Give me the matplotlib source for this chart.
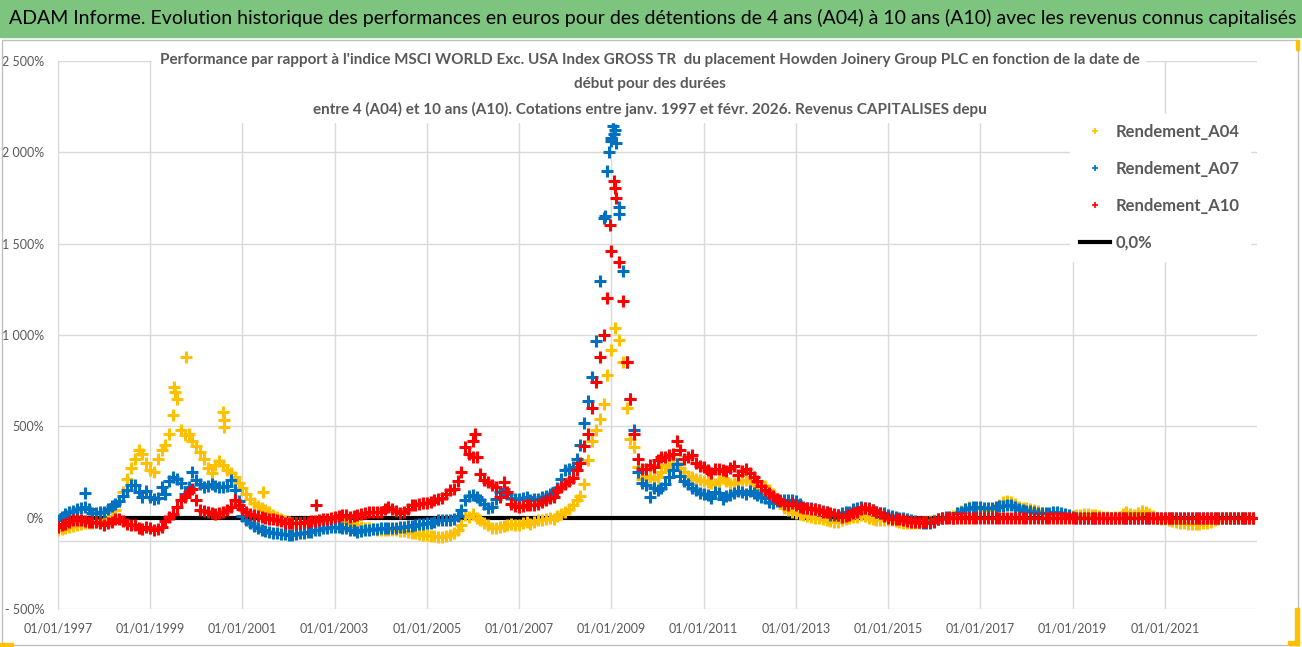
import matplotlib
matplotlib.use("Agg")
import matplotlib.pyplot as plt
from matplotlib.lines import Line2D
from matplotlib.patches import Rectangle
from matplotlib.ticker import FuncFormatter, MultipleLocator, FixedLocator
import matplotlib.dates as mdates
import pandas as pd

plt.rcParams['font.family'] = ['Lato', 'DejaVu Sans']

COLORS = {
    "a04": "#FFC000",   # yellow
    "a07": "#0070C0",   # blue
    "a10": "#FF0000",   # red
    "zero": "#000000",
    "grid": "#D9D9D9",
    "text": "#595959",
    "header": "#7DC47F",
}

HEADER = ("ADAM Informe. Evolution historique des performances en euros pour des détentions "
          "de 4 ans (A04) à 10 ans (A10) avec les revenus connus capitalisés")
TITLE = ["Performance par rapport à l'indice MSCI WORLD Exc. USA Index GROSS TR  du placement "
         "Howden Joinery Group PLC en fonction de la date de",
         "début pour des durées",
         "entre 4 (A04) et 10 ans (A10). Cotations entre janv. 1997 et févr. 2026. "
         "Revenus CAPITALISES depu"]
LABELS = ["Rendement_A04", "Rendement_A07", "Rendement_A10", "0,0%"]
TICK_DATES = ["1997-01-01", "1999-01-01", "2001-01-01", "2003-01-01", "2005-01-01", "2007-01-01",
              "2009-01-01", "2011-01-01", "2013-01-01", "2015-01-01", "2017-01-01", "2019-01-01",
              "2021-01-01"]

# monthly start dates, jan 1997 -> dec 2022
dates = pd.date_range("1997-01-01", periods=312, freq="MS")

# performance in %, one row per year (jan..dec)
a04 = [
    -70, -62, -55, -51, -45, -38, -33, -30, -30, -29, -25, -20,
    -15, -5, 10, 40, 90, 140, 210, 270, 320, 370, 350, 300,
    260, 250, 320, 370, 400, 460, 560, 650, 480, 450, 460, 420,
    390, 360, 320, 270, 245, 290, 310, 290, 260, 245, 225, 190,
    160, 130, 100, 80, 65, 55, 40, 30, 15, 5, -10, -20,
    -25, -28, -30, -30, -28, -27, -25, -22, -20, -15, -12, -8,
    -5, -8, -15, -22, -30, -40, -48, -52, -55, -58, -62, -65,
    -67, -67, -67, -68, -70, -72, -75, -78, -82, -86, -90, -95,
    -95, -98, -102, -105, -104, -100, -97, -85, -65, -40, 15, 5,
    20, 0, -15, -30, -42, -55, -58, -51, -45, -40, -33, -42,
    -42, -30, -24, -33, -25, -15, -15, -10, 0, -5, 10, 22,
    31, 49, 67, 95, 120, 186, 313, 420, 480, 540, 620, 780,
    920, 1040, 970, 850, 600, 430, 386, 280, 210, 230, 220, 210,
    222, 250, 290, 280, 320, 300, 270, 250, 230, 220, 210, 205,
    200, 195, 190, 185, 200, 215, 200, 185, 190, 195, 205, 208,
    199, 190, 181, 175, 172, 150, 130, 100, 79, 55, 40, 30,
    24, 20, 15, 10, 6, 0, -4, -10, -13, -20, -22, -22,
    -13, -8, -4, 4, 6, 15, 10, -4, -10, -13, -13, -13,
    -13, -15, -20, -25, -31, -31, -31, -30, -28, -25, -22, -18,
    -13, -10, -4, 0, 5, 10, 24, 35, 45, 57, 55, 52,
    52, 45, 42, 48, 55, 70, 85, 92, 85, 75, 61, 55,
    52, 47, 42, 35, 28, 20, 15, 10, 9, 6, 4, 2,
    9, 12, 15, 18, 20, 17, 15, 10, 6, 2, 0, 3,
    6, 20, 33, 20, 15, 24, 39, 30, 20, 10, 0, -5,
    -9, -13, -16, -22, -28, -31, -35, -35, -35, -33, -31, -27,
    -22, -15, -9, 0, 0, 0, 0, 0, 0, 0, 0, 0,
]
a07 = [
    -15, 5, 20, 30, 38, 45, 52, 58, 45, 25, 28, 31,
    31, 45, 62, 75, 90, 120, 150, 180, 180, 140, 115, 145,
    113, 100, 110, 168, 130, 200, 220, 210, 190, 131, 168, 250,
    204, 185, 168, 175, 186, 175, 168, 168, 175, 204, 150, 90,
    10, -15, -30, -45, -55, -65, -72, -78, -82, -86, -88, -92,
    -95, -93, -90, -86, -82, -80, -76, -70, -65, -58, -55, -52,
    -49, -52, -55, -58, -65, -70, -76, -72, -70, -67, -63, -60,
    -58, -58, -58, -58, -55, -52, -49, -46, -43, -40, -36, -33,
    -31, -28, -22, -15, -15, -15, -15, -5, 10, 40, 95, 120,
    122, 113, 95, 76, 55, 60, 104, 140, 158, 131, 110, 104,
    104, 110, 113, 95, 100, 104, 113, 120, 131, 140, 160, 210,
    259, 268, 277, 320, 400, 520, 641, 769, 969, 1297, 1643, 1900,
    2062, 2120, 1700, 1350, 850, 650, 480, 250, 190, 180, 113, 160,
    150, 160, 186, 220, 259, 295, 230, 200, 186, 160, 149, 135,
    131, 125, 110, 140, 135, 100, 116, 125, 135, 144, 140, 130,
    144, 135, 125, 115, 107, 85, 79, 89, 95, 98, 98, 95,
    89, 75, 61, 55, 52, 45, 42, 35, 30, 15, 15, 15,
    24, 30, 33, 45, 52, 61, 55, 52, 40, 33, 24, 24,
    15, 10, 6, 0, -4, -10, -13, -20, -25, -31, -30, -28,
    -18, -10, -4, 2, 6, -4, 24, 33, 45, 52, 61, 60,
    57, 55, 52, 55, 57, 62, 65, 70, 70, 60, 50, 42,
    39, 36, 33, 28, 24, 26, 28, 30, 33, 24, 20, 15,
    6, 0, 0, 0, 0, 0, 0, 0, 0, 0, 0, 0,
    0, 0, 0, 0, 0, 0, 0, 0, 0, 0, 0, 0,
    0, 0, 0, 0, 0, 0, 0, 0, 0, 0, 0, 0,
    0, 0, 0, 0, 0, 0, 0, 0, 0, 0, 0, 0,
]
a10 = [
    -51, -42, -33, -25, -15, -15, -15, -20, -24, -24, -24, -30,
    -42, -30, -24, -5, -10, -20, -33, -38, -42, -55, -60, -51,
    -55, -69, -60, -51, -20, 4, 22, 58, 95, 113, 140, 158,
    95, 40, 35, 31, 25, 22, 28, 31, 40, 60, 95, 70,
    45, 30, 20, 13, 10, 5, 0, -5, -10, -13, -20, -27,
    -27, -27, -27, -27, -25, -22, -20, -18, -13, -10, -5, 0,
    5, 10, 15, 12, 5, 8, 15, 18, 25, 30, 33, 33,
    33, 45, 60, 50, 35, 24, 30, 50, 69, 72, 75, 78,
    78, 85, 95, 100, 110, 130, 149, 158, 200, 250, 386, 350,
    331, 331, 240, 204, 195, 180, 168, 113, 195, 140, 76, 65,
    58, 62, 67, 67, 72, 76, 86, 95, 105, 113, 149, 170,
    186, 200, 215, 260, 300, 390, 459, 600, 740, 880, 1000, 1200,
    1461, 1807, 1400, 1188, 850, 650, 459, 320, 265, 265, 290, 280,
    313, 331, 331, 345, 350, 420, 368, 320, 331, 345, 300, 285,
    277, 260, 245, 264, 264, 260, 255, 270, 282, 236, 255, 264,
    245, 220, 199, 175, 150, 135, 116, 100, 89, 75, 72, 79,
    70, 60, 52, 52, 50, 45, 40, 33, 30, 24, 20, 15,
    6, 10, 15, 25, 33, 45, 52, 45, 42, 30, 24, 10,
    -4, -5, -7, -10, -13, -18, -22, -22, -22, -22, -22, -22,
    -22, -7, 0, 0, 0, 0, 0, 0, 0, 0, 0, 0,
    0, 0, 0, 0, 0, 0, 0, 0, 0, 0, 0, 0,
    0, 0, 0, 0, 0, 0, 0, 0, 0, 0, 0, 0,
    0, 0, 0, 0, 0, 0, 0, 0, 0, 0, 0, 0,
    0, 0, 0, 0, 0, 0, 0, 0, 0, 0, 0, 0,
    0, 0, 0, 0, 0, 0, 0, 0, 0, 0, 0, 0,
    0, 0, 0, 0, 0, 0, 0, 0, 0, 0, 0, 0,
]

# isolated points standing out of the bands
a04_extra_dates = ["1999-07-10", "1999-07-20", "1999-10-15", "2000-08-01", "2000-08-05", "2000-08-10", "2001-06-15"]
a04_extra = [714, 690, 878, 577, 532, 495, 140]
a07_extra_dates = ["1997-08-05", "2008-11-15", "2008-12-15", "2008-12-28", "2009-01-10", "2009-01-20", "2009-02-05", "2009-03-05"]
a07_extra = [133, 1650, 2000, 2080, 2144, 2100, 2050, 1660]
a10_extra_dates = ["2002-08-10", "2006-01-01", "2006-01-20", "2008-12-20", "2009-01-20", "2009-02-05"]
a10_extra = [69, 420, 459, 1600, 1843, 1750]

W, H = 1302, 647
fig = plt.figure(figsize=(W / 100, H / 100), dpi=100)
ax = fig.add_axes([58 / W, 1 - 609 / H, (1257 - 58) / W, (609 - 61) / H])

mk = dict(linestyle="none", marker="+", markersize=8, markeredgewidth=2.2)
ax.plot(dates, a04, color=COLORS["a04"], zorder=3, **mk)
ax.plot(pd.to_datetime(a04_extra_dates), a04_extra, color=COLORS["a04"], zorder=3, **mk)
ax.plot(dates, a07, color=COLORS["a07"], zorder=4, **mk)
ax.plot(pd.to_datetime(a07_extra_dates), a07_extra, color=COLORS["a07"], zorder=4, **mk)
ax.plot(dates, a10, color=COLORS["a10"], zorder=5, **mk)
ax.plot(pd.to_datetime(a10_extra_dates), a10_extra, color=COLORS["a10"], zorder=5, **mk)
ax.plot([dates[0], dates[-1]], [0, 0], color=COLORS["zero"], lw=3, zorder=2)
ax.axhline(-128, color=COLORS["grid"], lw=1, zorder=1)

ax.set_xlim(pd.Timestamp("1997-01-01"), pd.Timestamp("2023-01-01"))
ax.set_ylim(-500, 2500)
ax.yaxis.set_major_locator(MultipleLocator(500))
ax.yaxis.set_major_formatter(FuncFormatter(
    lambda v, p: "0%" if v == 0 else ("- " if v < 0 else "") + f"{abs(int(v)):,}".replace(",", " ") + "%"))
ax.xaxis.set_major_locator(FixedLocator(mdates.date2num(pd.to_datetime(TICK_DATES))))
ax.xaxis.set_major_formatter(mdates.DateFormatter("%d/%m/%Y"))
ax.grid(True, color=COLORS["grid"], lw=1)
ax.set_axisbelow(True)
ax.tick_params(length=0, labelsize=9, labelcolor=COLORS["text"])
ax.tick_params(axis="y", pad=10)
ax.tick_params(axis="x", pad=10)
for s in ["top", "right", "bottom"]:
    ax.spines[s].set_visible(False)
ax.spines["left"].set_color(COLORS["grid"])

# chart frame + header band
fig.patches.append(Rectangle((2 / W, 1 - 645 / H), 1296 / W, 605 / H, transform=fig.transFigure,
                             fill=False, edgecolor="#BFBFBF", lw=1))
fig.patches.append(Rectangle((0, 1 - 37 / H), 1, 37 / H, transform=fig.transFigure,
                             color=COLORS["header"]))
fig.text(9 / W, 1 - 18 / H, HEADER, fontsize=14, color="black", va="center", ha="left")

# title on white box
fig.patches.append(Rectangle((152 / W, 1 - 122 / H), (1145 - 152) / W, 75 / H, transform=fig.transFigure,
                             color="white", zorder=1))
for line, y in zip(TITLE, [60, 84, 109]):
    fig.text(650 / W, 1 - y / H, line, fontsize=11, fontweight="bold", color=COLORS["text"],
             ha="center", va="center")

handles = [Line2D([], [], color=COLORS[k], marker="+", linestyle="none", markersize=5, markeredgewidth=1.2)
           for k in ["a04", "a07", "a10"]]
handles.append(Line2D([], [], color="black", lw=3))
leg = ax.legend(handles, LABELS, loc="upper left", bbox_to_anchor=(1070 / W, 1 - 114 / H),
                bbox_transform=fig.transFigure, frameon=True, fancybox=False, framealpha=1,
                edgecolor="white", fontsize=12, labelspacing=1.25, handlelength=1.8,
                handletextpad=0.35, borderpad=0.6, borderaxespad=0)
for t in leg.get_texts():
    t.set_color(COLORS["text"])
    t.set_fontweight("bold")

# small selection marks of the source capture
for (x0, y0, w, h) in [(0, 643, 13, 4), (1295, 608, 4, 37), (1288, 641, 11, 4), (1296, 40, 3, 10)]:
    fig.patches.append(Rectangle((x0 / W, 1 - (y0 + h) / H), w / W, h / H, transform=fig.transFigure,
                                 color="#FFC000", zorder=6))

fig.savefig("out.png", dpi=100)
plt.close(fig)
